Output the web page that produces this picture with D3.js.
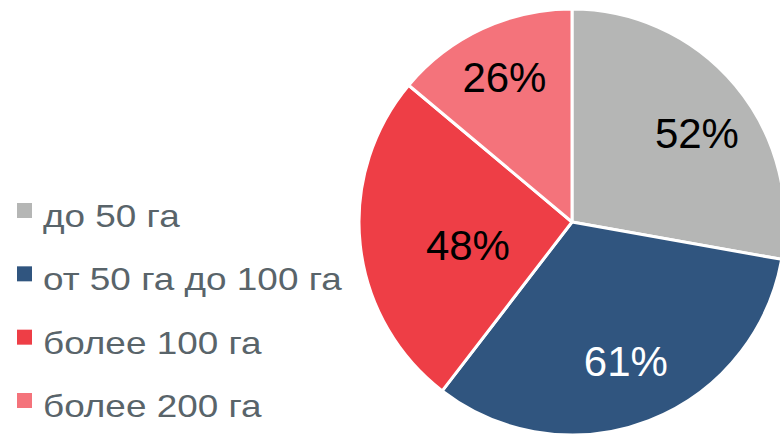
<!DOCTYPE html>
<html>
<head>
<meta charset="utf-8">
<script src="https://cdn.jsdelivr.net/npm/d3@7"></script>
<style>
  body { margin: 0; background: #fff; }
  svg { display: block; }
</style>
</head>
<body>
<div id="chart"></div>
<script>
const categories = ["до 50 га", "от 50 га до 100 га", "более 100 га", "более 200 га"];
const values = [52, 61, 48, 26];
const labels = ["52%", "61%", "48%", "26%"];
const colors = ["#b5b6b5", "#30557f", "#ee3e46", "#f4737b"];
const labelColors = ["#000", "#fff", "#000", "#000"];
// where the data label sits: share of the radius, and a small turn in degrees
const labelPos = [0.72, 0.70, 0.5, 0.75];
const labelTurn = [4.5, 0, -6, 0];

const width = 780, height = 434;
const cx = 572, cy = 222, radius = 213;

const svg = d3.select("#chart").append("svg")
  .attr("width", width)
  .attr("height", height);

const pie = d3.pie().sort(null).value(d => d);
const arcs = pie(values);
const arc = d3.arc().innerRadius(0).outerRadius(radius);

const g = svg.append("g").attr("transform", `translate(${cx},${cy})`);

g.selectAll("path")
  .data(arcs)
  .enter().append("path")
  .attr("d", arc)
  .attr("fill", (d, i) => colors[i])
  .attr("stroke", "#fff")
  .attr("stroke-width", 3)
  .attr("stroke-linejoin", "round");

g.selectAll("text")
  .data(arcs)
  .enter().append("text")
  .attr("transform", (d, i) => {
    const r = radius * labelPos[i];
    const a = (d.startAngle + d.endAngle) / 2 + labelTurn[i] * Math.PI / 180;
    return `translate(${r * Math.sin(a)},${-r * Math.cos(a)})`;
  })
  .attr("text-anchor", "middle")
  .attr("dy", "0.36em")
  .attr("font-family", "Liberation Sans, Arial, sans-serif")
  .attr("font-size", 42)
  .attr("fill", (d, i) => labelColors[i])
  .text((d, i) => labels[i]);

// legend
const legend = svg.append("g");
const rowY = d3.scalePoint().domain(categories).range([227, 417]);

const items = legend.selectAll("g")
  .data(categories)
  .enter().append("g")
  .attr("transform", d => `translate(0,${rowY(d)})`);

items.append("rect")
  .attr("x", 17)
  .attr("y", -24)
  .attr("width", 15)
  .attr("height", 15)
  .attr("fill", (d, i) => colors[i]);

items.append("text")
  .attr("transform", "translate(43,0) scale(1.21,1)")
  .attr("font-family", "Liberation Sans, Arial, sans-serif")
  .attr("font-size", 30.5)
  .attr("fill", "#59646a")
  .text(d => d);
</script>
</body>
</html>
